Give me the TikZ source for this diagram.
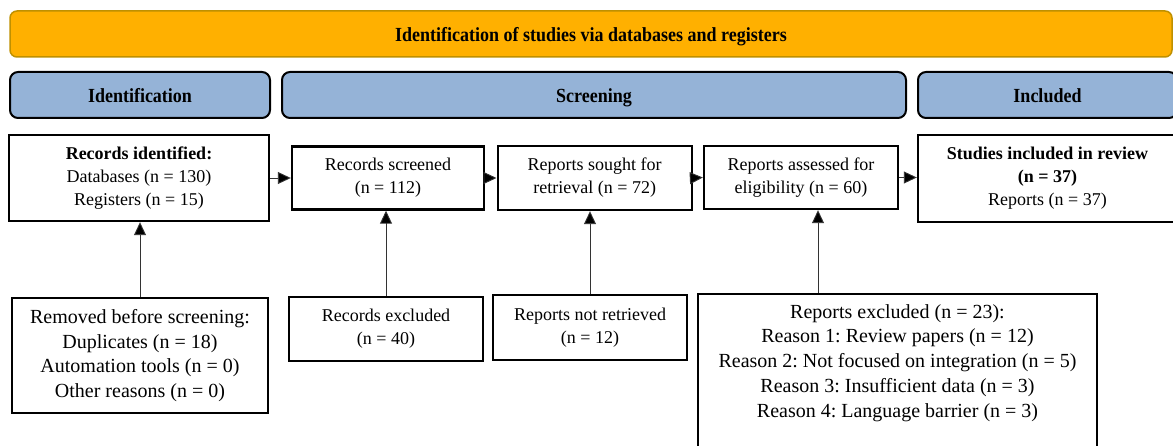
\documentclass[tikz,border=0pt]{standalone}
\usepackage{fontspec}
\setmainfont{Liberation Serif}
\newfontfamily\hdrfont[FakeStretch=0.9]{Liberation Serif}
\usetikzlibrary{arrows.meta,calc}
\definecolor{banner}{HTML}{FFB000}
\definecolor{bannerline}{HTML}{BF9000}
\definecolor{hdr}{HTML}{95B3D7}
\tikzset{
  bannerbox/.style={draw=bannerline, line width=1.5pt, fill=banner, rounded corners=7pt, inner sep=0pt,
    text height=17pt, text depth=2pt,
    font=\hdrfont\fontsize{20}{24}\selectfont\bfseries},
  hdrbox/.style={draw=black, line width=2pt, fill=hdr, rounded corners=8pt, inner sep=0pt,
    text height=17pt, text depth=2pt,
    font=\hdrfont\fontsize{20}{24}\selectfont\bfseries},
  flowbox/.style={draw=black, line width=2.4pt, fill=white, inner sep=0pt, align=center,
    font=\frenchspacing\fontsize{18}{23}\selectfont},
  bigbox/.style={flowbox, font=\frenchspacing\fontsize{20}{24.5}\selectfont},
  plaintext/.style={inner sep=0pt, align=center, font=\frenchspacing\fontsize{20}{24.8}\selectfont},
  arr/.style={draw=black!80, line width=0.9pt, -{Triangle[length=13pt,width=12pt,fill=black]}}
}
\begin{document}
\frenchspacing
\begin{tikzpicture}[x=1pt,y=-1pt]
\useasboundingbox (0,0) rectangle (1173,446);
\clip (0,0) rectangle (1173,446);
% banner and phase headers
\node[bannerbox, minimum width=1162, minimum height=46] (ban) at (591,34) {Identification of studies via databases and registers};
\node[hdrbox, minimum width=260, minimum height=46] (hid) at (140,95) {Identification};
\node[hdrbox, minimum width=624, minimum height=46] (hsc) at (594,95) {Screening};
\node[hdrbox, minimum width=259, minimum height=46] (hin) at (1047.5,95) {Included};
% top row
\node[flowbox, minimum width=260, minimum height=86] (rid) at (139,178) {\textbf{Records identified:}\\Databases (n = 130)\\Registers (n = 15)};
\node[flowbox, minimum width=192, minimum height=63] (rsc) at (388,178) {Records screened\\(n = 112)};
\node[flowbox, minimum width=194, minimum height=64] (rso) at (594.7,178) {Reports sought for\\retrieval (n = 72)};
\node[flowbox, minimum width=194, minimum height=63] (ras) at (801,177.5) {Reports assessed for\\eligibility (n = 60)};
\node[flowbox, minimum width=259, minimum height=87] (sin) at (1047.5,178.5) {\textbf{Studies included in review}\\\textbf{(n = 37)}\\Reports (n = 37)};
% bottom row
\node[bigbox, minimum width=256, minimum height=115] (rem) at (140,355.5) {Removed before screening:\\Duplicates (n = 18)\\Automation tools (n = 0)\\Other reasons (n = 0)};
\node[flowbox, minimum width=194, minimum height=64] (rxc) at (386,329) {Records excluded\\(n = 40)};
\node[flowbox, minimum width=194, minimum height=65] (rnr) at (590,327.5) {Reports not retrieved\\(n = 12)};
\node[flowbox, minimum width=399, minimum height=180, anchor=north] (rex) at (897.5,293) {};
\node[plaintext, anchor=north] (rextxt) at (897.5,304) {Reports excluded (n = 23):\\Reason 1: Review papers (n = 12)\\Reason 2: Not focused on integration (n = 5)\\Reason 3: Insufficient data (n = 3)\\Reason 4: Language barrier (n = 3)};
% horizontal arrows
\draw[arr] (rid.east) -- (rsc.west);
\draw[arr] (rsc.east) -- (rso.west);
\draw[arr] (rso.east) -- (ras.west);
\draw[arr] (ras.east) -- (ras.east -| sin.west);
% vertical arrows
\draw[arr] (rem.north) -- (rem.north |- rid.south);
\draw[arr] (rxc.north) -- (rxc.north |- rsc.south);
\draw[arr] (rnr.north) -- (rnr.north |- rso.south);
\coordinate (rexarr) at ([xshift=-79.5]rex.north);
\draw[arr] (rexarr) -- (rexarr |- ras.south);
\end{tikzpicture}
\end{document}
